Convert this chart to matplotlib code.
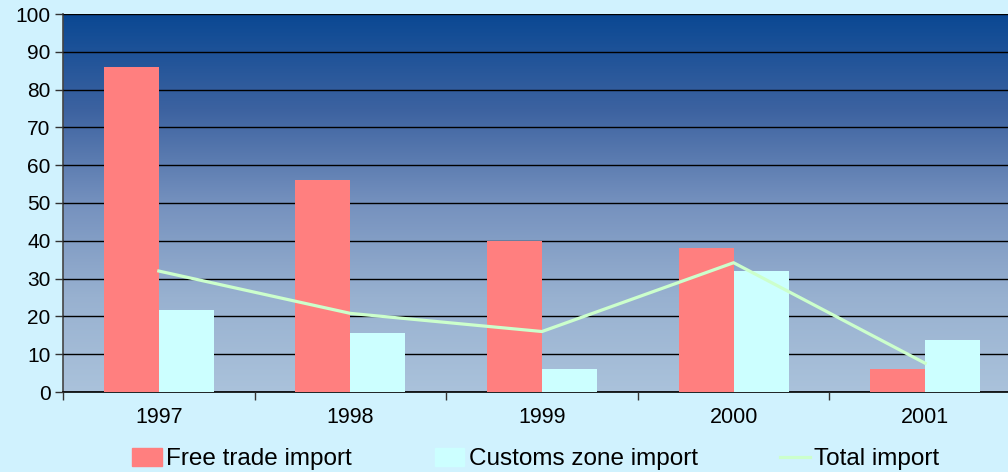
import matplotlib
matplotlib.use("Agg")
import matplotlib.pyplot as plt
import numpy as np
from matplotlib.colors import LinearSegmentedColormap
from matplotlib.patches import Patch
from matplotlib.lines import Line2D

years = ["1997", "1998", "1999", "2000", "2001"]
free_trade = [86, 56, 40, 38.2, 6]
customs_zone = [21.7, 15.6, 6, 32, 13.8]
total_import = [32, 20.8, 16, 34.2, 7.6]
y_ticks = [0, 10, 20, 30, 40, 50, 60, 70, 80, 90, 100]

plt.rcParams['font.family'] = ['Liberation Sans', 'DejaVu Sans']

fig = plt.figure(figsize=(10.08, 4.72), dpi=100)
fig.patch.set_facecolor('#D0F2FE')
W, H = 1008, 472
left_px, top_px, bottom_px, right_px = 63, 14, 392, 1021
ax = fig.add_axes([left_px / W, 1 - bottom_px / H, (right_px - left_px) / W, (bottom_px - top_px) / H])
ax.set_facecolor('#A9C1DA')

cmap = LinearSegmentedColormap.from_list('bg', [
    (0.0, '#0A4893'), (0.25, '#3C62A0'), (0.5, '#7591BE'), (0.75, '#98B1D0'), (1.0, '#AAC2DB')])
grad = np.linspace(0, 1, 256).reshape(-1, 1)
ax.imshow(grad, cmap=cmap, aspect='auto', extent=(0, 1, 0, 1), transform=ax.transAxes, zorder=0)

x = np.arange(len(years))
bw = 0.287
ax.bar(x - bw / 2, free_trade, width=bw, color='#FF7F7F', zorder=3, label='Free trade import')
ax.bar(x + bw / 2, customs_zone, width=bw, color='#CCFFFF', zorder=3, label='Customs zone import')
ax.plot(x, total_import, color='#CCFFCC', lw=2.3, zorder=4, label='Total import')

ax.set_xlim(-0.5, len(years) - 0.5)
ax.set_ylim(0, 100)
ax.set_yticks(y_ticks)
ax.set_yticklabels([str(v) for v in y_ticks], fontsize=15)
ax.yaxis.grid(True, color='black', lw=1.0, zorder=1)
ax.set_axisbelow(False)
for gl in ax.get_ygridlines():
    gl.set_zorder(1)

ax.set_xticks(np.arange(-0.5, len(years) + 0.5, 1.0))
ax.set_xticklabels([])
ax.set_xticks(x, minor=True)
ax.set_xticklabels(years, minor=True, fontsize=15.5)
ax.tick_params(axis='x', which='minor', length=0, pad=11)
ax.tick_params(axis='x', which='major', length=6, width=1, color='#333333', direction='out')
ax.tick_params(axis='y', length=6, width=1, color='#333333', direction='out', pad=3)

for s in ['top', 'right']:
    ax.spines[s].set_visible(False)
ax.spines['left'].set_color('#444444')
ax.spines['left'].set_linewidth(1.2)
ax.spines['bottom'].set_color('black')
ax.spines['bottom'].set_linewidth(1.2)

handles = [Patch(color='#FF7F7F'), Patch(color='#CCFFFF'), Line2D([], [], color='#CCFFCC', lw=2.3)]
labels = ['Free trade import', 'Customs zone import', 'Total import']
fig.legend(handles, labels, loc='center', bbox_to_anchor=(536 / W, 1 - 459 / H), ncol=3, frameon=False,
           fontsize=17.5, handlelength=1.2, handleheight=0.75, handletextpad=0.2, columnspacing=3.4)

fig.savefig('out.png', dpi=100, facecolor=fig.get_facecolor())
